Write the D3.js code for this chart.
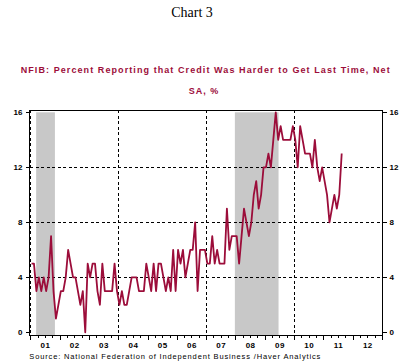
<!DOCTYPE html>
<html>
<head>
<meta charset="utf-8">
<script src="https://cdn.jsdelivr.net/npm/d3@7"></script>
<style>
  html, body { margin: 0; padding: 0; background: #fff; }
  svg { display: block; }
</style>
</head>
<body>
<svg id="chart" width="406" height="364"></svg>
<script>
// ---- data (monthly, Jan 2001 onward) ----
const startYear = 2001;
const values = [
  // 2001
  5, 5, 3, 4, 3, 4, 3, 4, 7, 3, 1, 2,
  // 2002
  3, 3, 4, 6, 5, 4, 4, 3, 2, 3, 0, 5,
  // 2003
  4, 5, 5, 3, 2, 5, 3, 3, 3, 3, 5, 3,
  // 2004
  2, 3, 2, 2, 3, 4, 4, 4, 3, 3, 3, 5,
  // 2005
  4, 3, 5, 3, 5, 5, 4, 3, 4, 3, 6, 3,
  // 2006
  6, 5, 6, 4, 5, 6, 6, 8, 3, 6, 6, 6,
  // 2007
  5, 5, 7, 5, 6, 5, 5, 5, 9, 6, 7, 7,
  // 2008
  7, 5, 7, 9, 8, 7, 8, 10, 11, 9, 10, 12,
  // 2009
  12, 13, 12, 14, 16, 14, 15, 14, 14, 14, 14, 15,
  // 2010
  14, 12, 15, 14, 13, 13, 13, 12, 14, 12, 11, 12,
  // 2011
  11, 10, 8, 9, 10, 9, 10, 13
];
const yearLabels = ["01","02","03","04","05","06","07","08","09","10","11","12"];
const yTicks = [0, 4, 8, 12, 16];
const gridYears = [2001, 2004, 2007, 2010];
const recessionStart = [2001.2, 2007.98];
const recessionEnd = [2001.84, 2009.47];
const titleText = "Chart 3";
const subtitle1 = "NFIB: Percent Reporting that Credit Was Harder to Get Last Time, Net";
const subtitle2 = "SA, %";
const sourceText = "Source:  National Federation of Independent Business /Haver Analytics";

// ---- layout ----
const svg = d3.select("#chart");
const pLeft = 30.3, pRight = 382, pTop = 110, pBottom = 335;
const x = d3.scaleLinear().domain([startYear, startYear + 12]).range([pLeft, pRight]);
const y = d3.scaleLinear().domain([0, 16]).range([332.3, 112.3]);
const red = "#9c0d3a";
const sans = "'Liberation Sans', Arial, sans-serif";

// titles
svg.append("text").attr("x", 192).attr("y", 17).attr("text-anchor", "middle")
  .attr("font-family", "'Liberation Serif', 'Times New Roman', serif").attr("font-size", 14)
  .attr("fill", "#000").text(titleText);
svg.append("text").attr("x", 20.7).attr("y", 72.7)
  .attr("font-family", sans).attr("font-size", 9).attr("font-weight", "bold")
  .attr("fill", red).attr("textLength", 369).attr("lengthAdjust", "spacing").text(subtitle1);
svg.append("text").attr("x", 204).attr("y", 94).attr("text-anchor", "middle")
  .attr("font-family", sans).attr("font-size", 9).attr("font-weight", "bold")
  .attr("fill", red).attr("letter-spacing", 1).text(subtitle2);

// recession shading
svg.append("g").selectAll("rect").data(recessionStart).join("rect")
  .attr("x", (d) => x(d))
  .attr("width", (d, i) => x(recessionEnd[i]) - x(d))
  .attr("y", y(16))
  .attr("height", pBottom - y(16))
  .attr("fill", "#c8c8c8");

// grid lines
const grid = svg.append("g").attr("stroke", "#000").attr("stroke-width", 1)
  .attr("stroke-dasharray", "3,2.5").attr("shape-rendering", "crispEdges");
grid.selectAll("line.h").data(yTicks.filter(d => d > 0 && d < 16)).join("line")
  .attr("class", "h").attr("x1", pLeft).attr("x2", pRight)
  .attr("y1", d => Math.round(y(d)) + 0.5).attr("y2", d => Math.round(y(d)) + 0.5);
grid.selectAll("line.v").data(gridYears).join("line")
  .attr("class", "v").attr("y1", pTop).attr("y2", pBottom)
  .attr("x1", d => Math.round(x(d)) + 0.5).attr("x2", d => Math.round(x(d)) + 0.5);

// data line
const line = d3.line()
  .x((d, i) => x(startYear + (i + 0.5) / 12))
  .y(d => y(d));
svg.append("path").datum(values)
  .attr("d", line).attr("fill", "none")
  .attr("stroke", red).attr("stroke-width", 1.8).attr("stroke-linejoin", "round");

// frame
const frame = svg.append("g").attr("stroke", "#000").attr("stroke-width", 1).attr("shape-rendering", "crispEdges");
frame.append("line").attr("x1", 29).attr("x2", pRight + 0.5).attr("y1", pTop + 0.5).attr("y2", pTop + 0.5);
frame.append("line").attr("x1", pRight + 0.5).attr("x2", pRight + 0.5).attr("y1", pTop).attr("y2", pBottom + 0.5);
frame.append("line").attr("x1", 29).attr("x2", pRight + 0.5).attr("y1", pBottom + 0.5).attr("y2", pBottom + 0.5);
frame.append("line").attr("x1", 29.5).attr("x2", 29.5).attr("y1", pTop).attr("y2", pBottom + 0.5);

// y axes
const styleAxis = (g) => {
  g.select(".domain").remove();
  g.selectAll(".tick line").attr("stroke", "#000").attr("shape-rendering", "crispEdges");
  g.selectAll(".tick text").attr("font-family", sans).attr("font-size", 8)
    .attr("font-weight", "bold").attr("fill", "#000");
};
svg.append("g").attr("transform", "translate(29.5,0)")
  .call(d3.axisLeft(y).tickValues(yTicks).tickSize(4).tickPadding(3).tickFormat(d3.format("d")))
  .call(styleAxis);
svg.append("g").attr("transform", `translate(${pRight + 0.5},0)`)
  .call(d3.axisRight(y).tickValues(yTicks).tickSize(4).tickPadding(3).tickFormat(d3.format("d")))
  .call(styleAxis);

// x axis ticks
const quarterTicks = d3.range(0, 12 * 4 + 1).map(q => startYear + q / 4);
svg.append("g").attr("transform", `translate(0,${pBottom + 0.5})`)
  .call(d3.axisBottom(x).tickValues(quarterTicks.filter(t => !Number.isInteger(t))).tickSize(2.5).tickFormat(""))
  .call(styleAxis);
svg.append("g").attr("transform", `translate(0,${pBottom + 0.5})`)
  .call(d3.axisBottom(x).tickValues(d3.range(startYear, startYear + 13)).tickSize(4).tickFormat(""))
  .call(styleAxis);
svg.append("g").attr("transform", `translate(0,${pBottom + 0.5})`)
  .call(d3.axisBottom(x).tickValues(yearLabels.map((d, i) => startYear + i + 0.5)).tickSize(0).tickPadding(7)
    .tickFormat((d, i) => yearLabels[i]))
  .call(styleAxis)
  .call(g => g.selectAll(".tick text").attr("font-size", 8).attr("letter-spacing", 0.5));

// source
svg.append("text").attr("x", 29.3).attr("y", 358.5)
  .attr("font-family", sans).attr("font-size", 7.5).attr("fill", "#000")
  .attr("textLength", 291).attr("lengthAdjust", "spacing").text(sourceText);
</script>
</body>
</html>
